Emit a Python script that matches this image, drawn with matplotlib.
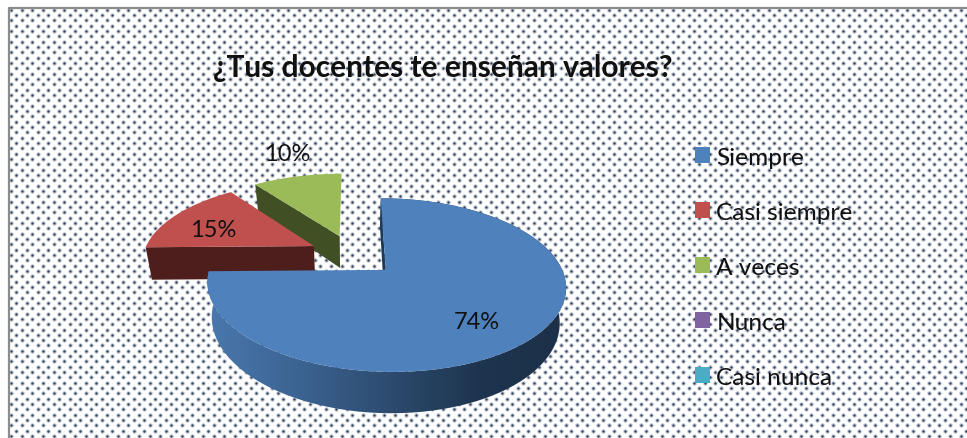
import numpy as np
import matplotlib
matplotlib.use("Agg")
import matplotlib.pyplot as plt
from matplotlib.colors import LinearSegmentedColormap
from matplotlib.patches import Patch, Polygon

plt.rcParams['font.family'] = ['Lato', 'DejaVu Sans']

title = "¿Tus docentes te enseñan valores?"
categories = ["Siempre", "Casi siempre", "A veces", "Nunca", "Casi nunca"]
values = [74, 15, 10, 0, 0]
colors = ["#4f81bd", "#c0504d", "#9bbb59", "#8064a2", "#4bacc6"]
side_colors = ["#1f3a57", "#4d1e1c", "#404f24", "#40325a", "#25606e"]
pct_labels = ["74%", "15%", "10%"]
label_pos = [(477, 323), (213, 231), (287, 155)]

# pie geometry in pixels, (x right, y down) so it lines up with the screenshot
EXPLODE = 0.26
OX, OY = 353, 256
RX, RY = 171, 79
PERSP = 0.17
THICK = 33

fig = plt.figure(figsize=(9.67, 4.39), dpi=100)
ax = fig.add_axes([0, 0, 1, 1])
ax.set_xlim(0, 967)
ax.set_ylim(439, 0)
ax.axis("off")


def project(u, v):
    d = 1 + PERSP * v
    return OX + RX * u / d, OY - RY * v / d


def extrude(x, y, v):
    d = 1 + PERSP * v
    return x + (OX - x) * 0.03, y + THICK / d


# -----------------------------
# Dotted background + border
# -----------------------------
rows = np.arange(0, 84)
dot_x = []
dot_y = []
for r in rows:
    xs = np.arange(11 + (r % 2) * 5.33, 967, 10.67)
    dot_x.extend(xs)
    dot_y.extend([10.7 + r * 5.33] * len(xs))
ax.scatter(dot_x, dot_y, s=10, color="#8a96a8", alpha=0.6, linewidths=0, zorder=1)
ax.scatter(dot_x, dot_y, s=2.4, color="#2c3c58", linewidths=0, zorder=1.1)
ax.plot([9, 9, 967], [439, 9, 9], color="#8c8c8c", lw=1.6, zorder=1.2)

# -----------------------------
# Pie slices, back to front
# -----------------------------
fracs = np.array(values) / sum(values)
starts = np.concatenate([[0], np.cumsum(fracs)[:-1]]) * 2 * np.pi
ends = starts + fracs * 2 * np.pi

for i in [2, 1, 0]:
    mid = (starts[i] + ends[i]) / 2
    cu, cv = EXPLODE * np.sin(mid), EXPLODE * np.cos(mid)
    t = np.linspace(starts[i], ends[i], 200)
    u = cu + np.sin(t)
    v = cv + np.cos(t)
    x, y = project(u, v)
    ax_x, ay = project(cu, cv)

    if i == 0:
        # outer rim with the horizontal light-to-dark gradient
        xe, ye = extrude(x, y, v)
        rim = Polygon(np.column_stack([np.r_[x, xe[::-1]], np.r_[y, ye[::-1]]]),
                      closed=True, transform=ax.transData, fc="none", ec="none")
        ax.add_patch(rim)
        cmap = LinearSegmentedColormap.from_list(
            "rim", ["#4a78ae", "#3c6493", "#2d4c70", "#1e3550", "#1c3148"])
        im = ax.imshow(np.linspace(0, 1, 256).reshape(1, -1), cmap=cmap, aspect="auto",
                       extent=(x.min(), x.max(), 439, 0), zorder=2 + (2 - i))
        im.set_clip_path(rim)
        ax.set_xlim(0, 967)
        ax.set_ylim(439, 0)

    # radial wall on the starting edge of the slice
    ex0, ey0 = x[0], y[0]
    wall_x = [ax_x, ex0]
    wall_y = [ay, ey0]
    wx2, wy2 = extrude(np.array(wall_x), np.array(wall_y), np.array([cv, v[0]]))
    ax.fill(wall_x + list(wx2[::-1]), wall_y + list(wy2[::-1]),
            color=side_colors[i], lw=0, zorder=2.1 + (2 - i))

    # top face
    ax.fill(np.r_[ax_x, x], np.r_[ay, y], color=colors[i], lw=0, zorder=2.2 + (2 - i))

for txt, (lx, ly) in zip(pct_labels, label_pos):
    ax.text(lx, ly, txt, ha="center", va="center", fontsize=17, color="#111111", zorder=10)

ax.text(442.5, 68, title, ha="center", va="center", fontsize=21.5, fontweight="bold",
        color="#111111", zorder=10)

handles = [Patch(facecolor=c, edgecolor="none") for c in colors]
leg = ax.legend(handles, categories, loc="upper left", bbox_to_anchor=(695 / 967, 1 - 148 / 439),
                frameon=False, fontsize=17.6, labelspacing=1.39, handlelength=0.62,
                handleheight=0.62, handletextpad=0.25, borderpad=0, borderaxespad=0)
leg.set_zorder(10)
for t in leg.get_texts():
    t.set_color("#111111")

fig.savefig("out.png", dpi=100)
